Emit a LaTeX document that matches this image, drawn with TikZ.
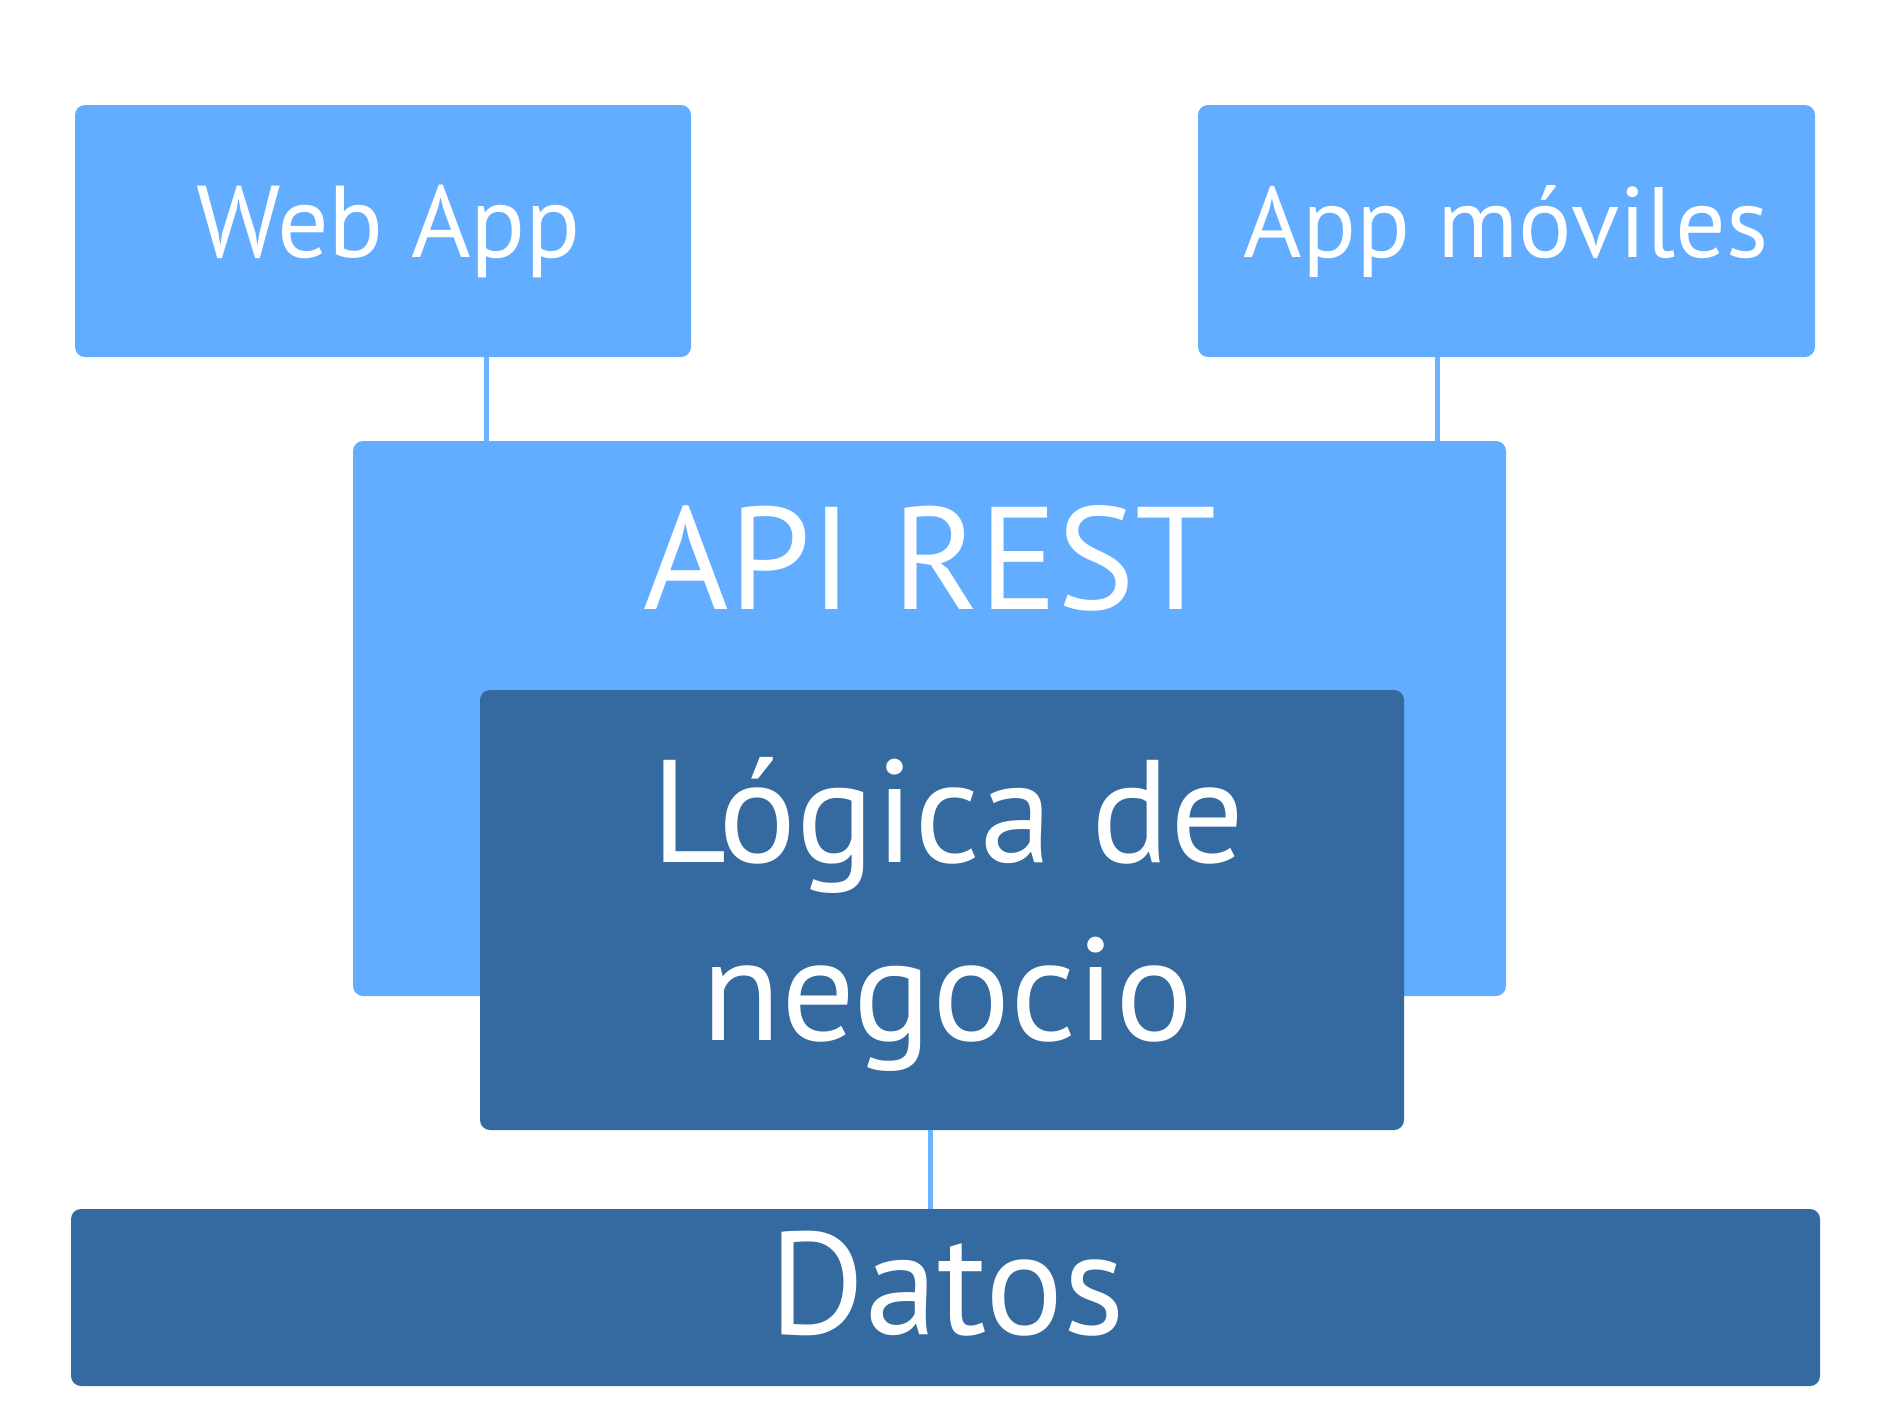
\documentclass[tikz,border=0pt]{standalone}
\usepackage{fontspec}
\setmainfont{PT Sans}
\definecolor{lightbox}{HTML}{62ADFF}
\definecolor{darkbox}{HTML}{356AA0}
\definecolor{linkcol}{HTML}{6AB2FF}
\begin{document}
\begin{tikzpicture}[x=1pt,y=-1pt,
  box/.style={rounded corners=10pt, inner sep=0pt, outer sep=0pt},
  lightb/.style={box, fill=lightbox},
  darkb/.style={box, fill=darkbox},
  lbl/.style={text=white, anchor=base, inner sep=0pt},
  conn/.style={draw=linkcol, line width=5pt}]
\useasboundingbox (0,0) rectangle (1890,1417);
% boxes
\node[lightb, minimum width=616pt, minimum height=252pt] (webapp) at (383,231) {};
\node[lightb, minimum width=617pt, minimum height=252pt] (movil) at (1506.5,231) {};
\node[lightb, minimum width=1153pt, minimum height=555pt] (api) at (929.5,718.5) {};
\node[darkb, minimum width=924pt, minimum height=440pt] (logica) at (942,910) {};
\node[darkb, minimum width=1749pt, minimum height=177pt] (datos) at (945.5,1297.5) {};
% connector x positions
\coordinate (c1) at (486,0);
\coordinate (c2) at (1437,0);
\coordinate (c3) at (930.5,0);
\draw[conn] (webapp.south -| c1) -- (api.north -| c1);
\draw[conn] (movil.south -| c2) -- (api.north -| c2);
\draw[conn] (logica.south -| c3) -- (datos.north -| c3);
% labels
\node[lbl, font=\fontsize{102}{122}\selectfont] (twebapp) at (389,257) {Web App};
\node[lbl, font=\fontsize{100}{120}\selectfont] (tmovil) at (1506,257) {App móviles};
\node[lbl, font=\fontsize{146}{176}\selectfont] (tapi) at (930,609) {API REST};
\node[lbl, font=\fontsize{146}{178}\selectfont] (tlog1) at (948,862) {Lógica de};
\node[lbl, font=\fontsize{146}{178}\selectfont] (tlog2) at (947.5,1040) {negocio};
\node[lbl, font=\fontsize{146}{178}\selectfont] (tdatos) at (947.5,1334) {Datos};
\end{tikzpicture}
\end{document}
